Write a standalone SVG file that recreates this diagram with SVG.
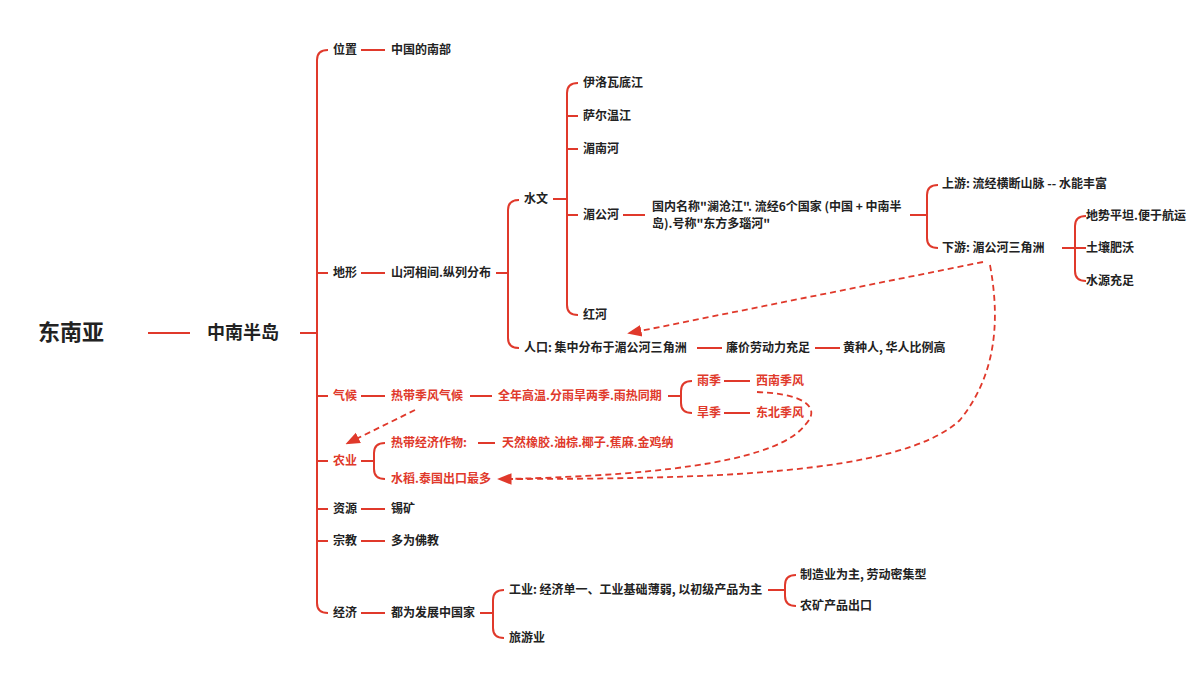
<svg xmlns="http://www.w3.org/2000/svg" width="1200" height="675" viewBox="0 0 1200 675">
<style>
text{font-family:"Noto Sans CJK SC","Noto Sans",sans-serif;font-weight:700;font-size:12px;fill:#222;dominant-baseline:middle}
.r{fill:#e0392b}
.l{stroke:#e0392b;stroke-width:2;fill:none}
.d{stroke:#e0392b;stroke-width:1.8;fill:none;stroke-dasharray:6,4}
</style>
<defs><marker id="a" viewBox="0 0 10 10" refX="8" refY="5" markerWidth="8" markerHeight="8" orient="auto"><path d="M0,1 L10,5 L0,9z" fill="#e0392b"/></marker></defs>
<g id="connectors">
<line class="l" x1="148" y1="333" x2="190" y2="333"/>
<line class="l" x1="300" y1="333" x2="317" y2="333"/>
<path class="l" d="M328,50 Q317,50 317,60 L317,603 Q317,613 328,613 M317,273 H328 M317,396 H328 M317,461 H328 M317,509 H328 M317,541 H328"/>
<path class="l" d="M361,50 H385 M361,273 H385 M361,396 H385 M361,509 H385 M361,541 H385 M361,613 H385 M470,396 H492 M361,461 H374"/>
<path class="l" d="M496,273 H508 M519,200 Q508,200 508,210 L508,338 Q508,348 519,348"/>
<path class="l" d="M553,199 H567 M578,83 Q567,83 567,93 L567,305 Q567,315 578,315 M567,116 H578 M567,149 H578 M567,215 H578"/>
<path class="l" d="M623,215 H645 M910,215 H927 M938,185 Q927,185 927,195 L927,238 Q927,248 938,248"/>
<path class="l" d="M1062,248 H1086 M1086,216 Q1075,216 1075,226 L1075,271 Q1075,281 1086,281"/>
<path class="l" d="M697,348 H722 M815,348 H840"/>
<path class="l" d="M668,396 H681 M692,381 Q681,381 681,391 L681,403 Q681,413 692,413 M724,381 H750 M724,413 H750"/>
<path class="l" d="M385,443 Q374,443 374,453 L374,469 Q374,479 385,479 M478,443 H495"/>
<path class="l" d="M480,613 H493 M504,590 Q493,590 493,600 L493,628 Q493,638 504,638 M768,590 H785 M796,575 Q785,575 785,585 L785,596 Q785,606 796,606"/>
<path class="d" d="M983,262 L630,333" marker-end="url(#a)"/>
<path class="d" d="M990,265 C1002,330 992,380 960,420 C900,476 700,479 500,479" marker-end="url(#a)"/>
<path class="d" d="M757,392 C810,394 820,410 805,425 C780,458 680,475 505,479"/>
<path class="d" d="M415,410 L348,443" marker-end="url(#a)"/>
</g>
<g id="root"><text x="38" y="334" style="font-size:22px">东南亚</text></g>
<g id="zhongnan"><text x="207" y="334" style="font-size:18px">中南半岛</text></g>
<g id="weizhi"><text x="333" y="51">位置</text><text x="391" y="51">中国的南部</text></g>
<g id="dixing"><text x="333" y="274">地形</text><text x="391" y="274">山河相间.纵列分布</text></g>
<g id="shuiwen"><text x="524" y="200">水文</text>
<text x="583" y="84">伊洛瓦底江</text><text x="583" y="117">萨尔温江</text><text x="583" y="150">湄南河</text><text x="583" y="216">湄公河</text><text x="583" y="316">红河</text>
<text x="652" y="208">国内名称"澜沧江". 流经6个国家 (中国 + 中南半</text><text x="652" y="225">岛).号称"东方多瑙河"</text>
<text x="942" y="185">上游: 流经横断山脉 -- 水能丰富</text><text x="942" y="249">下游: 湄公河三角洲</text>
<text x="1086" y="217">地势平坦.便于航运</text><text x="1086" y="249">土壤肥沃</text><text x="1086" y="282">水源充足</text></g>
<g id="renkou"><text x="524" y="349">人口: 集中分布于湄公河三角洲</text><text x="726" y="349">廉价劳动力充足</text><text x="843" y="349">黄种人, 华人比例高</text></g>
<g id="qihou"><text class="r" x="333" y="397">气候</text><text class="r" x="391" y="397">热带季风气候</text><text class="r" x="498" y="397">全年高温.分雨旱两季.雨热同期</text>
<text class="r" x="697" y="382">雨季</text><text class="r" x="756" y="382">西南季风</text><text class="r" x="697" y="414">旱季</text><text class="r" x="756" y="414">东北季风</text></g>
<g id="nongye"><text class="r" x="333" y="462">农业</text><text class="r" x="391" y="444">热带经济作物:</text><text class="r" x="502" y="444">天然橡胶.油棕.椰子.蕉麻.金鸡纳</text><text class="r" x="391" y="480">水稻.泰国出口最多</text></g>
<g id="ziyuan"><text x="333" y="510">资源</text><text x="391" y="510">锡矿</text></g>
<g id="zongjiao"><text x="333" y="542">宗教</text><text x="391" y="542">多为佛教</text></g>
<g id="jingji"><text x="333" y="614">经济</text><text x="391" y="614">都为发展中国家</text><text x="509" y="591">工业: 经济单一、工业基础薄弱, 以初级产品为主</text><text x="509" y="639">旅游业</text>
<text x="800" y="576">制造业为主, 劳动密集型</text><text x="800" y="607">农矿产品出口</text></g>
</svg>
